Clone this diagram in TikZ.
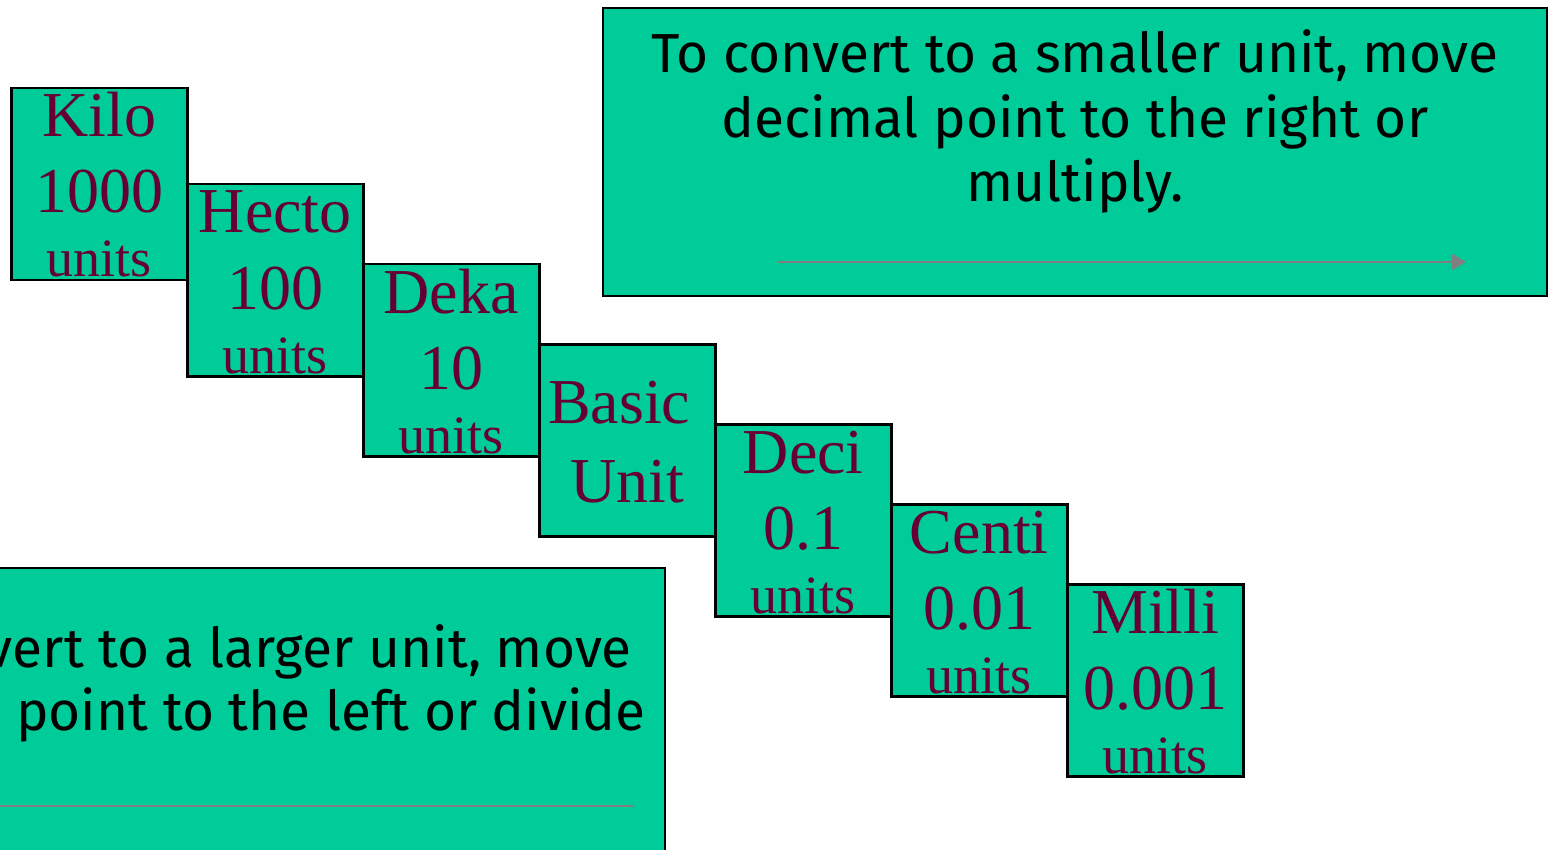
\documentclass[tikz,border=0pt]{standalone}
\usepackage{fontspec}
\setmainfont{Liberation Serif}
\newfontfamily\comicfont{Fira Sans}
\usetikzlibrary{arrows.meta}
\definecolor{boxgreen}{HTML}{00CC99}
\definecolor{maroon}{HTML}{660033}
\definecolor{arrgray}{HTML}{808080}
\tikzset{
  unitbox/.style={draw=black, line width=2.5pt, fill=boxgreen, minimum width=176pt, minimum height=192pt, inner sep=0pt, anchor=north west},
  bigbox/.style={draw=black, line width=2pt, fill=boxgreen},
  unittxt/.style={text=maroon, inner sep=0pt, anchor=base, font=\fontsize{64}{64}\selectfont},
  unitsmall/.style={text=maroon, inner sep=0pt, anchor=base, font=\fontsize{54}{54}\selectfont},
  ruletxt/.style={text=black, inner sep=0pt, font=\comicfont\fontsize{55}{55}\selectfont},
  grayarrow/.style={draw=arrgray, line width=2pt, -{Triangle[length=14pt,width=16pt]}},
  grayline/.style={draw=arrgray, line width=2pt}
}
\begin{document}
\begin{tikzpicture}[x=1pt,y=-1pt]
\useasboundingbox (0,0) rectangle (1550,850);
\clip (0,0) rectangle (1550,850);
% top rule box
\node[bigbox, anchor=north west, minimum width=944pt, minimum height=288pt, inner sep=0pt] (topbox) at (602,7) {};
\node[ruletxt, anchor=base] (top1) at (1075,73) {To convert to a smaller unit, move};
\node[ruletxt, anchor=base] (top2) at (1075,138) {decimal point to the right or};
\node[ruletxt, anchor=base] (top3) at (1075,202) {multiply.};
\coordinate (ta) at (778,262);
\coordinate (tb) at (1466,262);
\draw[grayarrow] (ta) -- (tb);
% bottom rule box
\node[bigbox, anchor=north east, minimum width=700pt, minimum height=320pt, inner sep=0pt] (botbox) at (666,567) {};
\node[ruletxt, anchor=base east] (bot1) at (632,667) {vert to a larger unit, move};
\node[ruletxt, anchor=base east] (bot2) at (646,730) {point to the left or divide};
\coordinate (ba) at (-10,806);
\coordinate (bb) at (634,806);
\draw[grayline] (ba) -- (bb);
% unit boxes
\node[unitbox] (kilo) at (10,87) {};
\node[unitbox] (hecto) at (186,183) {};
\node[unitbox] (deka) at (362,263) {};
\node[unitbox] (basic) at (538,343) {};
\node[unitbox] (deci) at (714,423) {};
\node[unitbox] (centi) at (890,503) {};
\node[unitbox] (milli) at (1066,583) {};
% texts
\node[unittxt] (kilo1) at ([yshift=-50pt]kilo.north) {Kilo};
\node[unittxt] (kilo2) at ([yshift=-126pt]kilo.north) {1000};
\node[unitsmall] (kilo3) at ([yshift=-190pt]kilo.north) {units};
\node[unittxt] (hecto1) at ([yshift=-50pt]hecto.north) {Hecto};
\node[unittxt] (hecto2) at ([yshift=-126pt]hecto.north) {100};
\node[unitsmall] (hecto3) at ([yshift=-190pt]hecto.north) {units};
\node[unittxt] (deka1) at ([yshift=-50pt]deka.north) {Deka};
\node[unittxt] (deka2) at ([yshift=-126pt]deka.north) {10};
\node[unitsmall] (deka3) at ([yshift=-190pt]deka.north) {units};
\node[unittxt] (basic1) at ([xshift=-8pt,yshift=-80pt]basic.north) {Basic};
\node[unittxt] (basic2) at ([yshift=-159pt]basic.north) {Unit};
\node[unittxt] (deci1) at ([yshift=-50pt]deci.north) {Deci};
\node[unittxt] (deci2) at ([yshift=-126pt]deci.north) {0.1};
\node[unitsmall] (deci3) at ([yshift=-190pt]deci.north) {units};
\node[unittxt] (centi1) at ([yshift=-50pt]centi.north) {Centi};
\node[unittxt] (centi2) at ([yshift=-126pt]centi.north) {0.01};
\node[unitsmall] (centi3) at ([yshift=-190pt]centi.north) {units};
\node[unittxt] (milli1) at ([yshift=-50pt]milli.north) {Milli};
\node[unittxt] (milli2) at ([yshift=-126pt]milli.north) {0.001};
\node[unitsmall] (milli3) at ([yshift=-190pt]milli.north) {units};
\end{tikzpicture}
\end{document}
